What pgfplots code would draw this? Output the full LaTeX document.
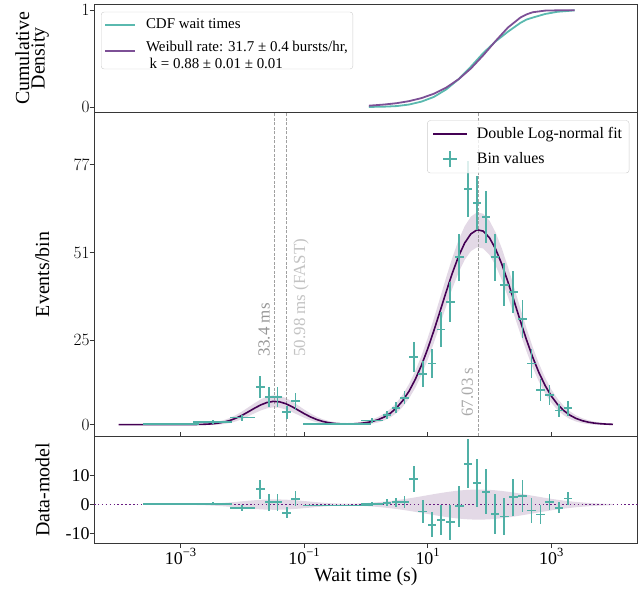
\documentclass[border=0pt]{standalone}
\usepackage{fontspec}
\setmainfont{Liberation Serif}
\usepackage{pgfplots}
\usepackage{pgfplotstable}
\pgfplotsset{compat=1.18}

\definecolor{tealc}{RGB}{80,176,166}
\definecolor{cdfc}{RGB}{90,185,175}
\definecolor{fitc}{RGB}{68,1,84}
\definecolor{weib}{RGB}{125,80,150}
\definecolor{dotc}{RGB}{105,30,130}
\definecolor{framec}{RGB}{55,55,55}
\definecolor{dashc}{RGB}{160,160,160}
\definecolor{annA}{RGB}{150,150,150}
\definecolor{annB}{RGB}{195,195,195}
\definecolor{annC}{RGB}{170,170,170}

\newcommand{\tenexp}[1]{10\raisebox{0.45em}{\fontsize{12.6}{12.6}\selectfont #1}}

\pgfplotstableread{
L f
-4.0 0.000
-3.5 0.000
-3.0 0.003
-2.8 0.022
-2.6 0.108
-2.5 0.220
-2.4 0.417
-2.3 0.740
-2.2 1.232
-2.1 1.918
-2.0 2.798
-1.9 3.821
-1.8 4.886
-1.7 5.850
-1.6 6.560
-1.5 6.887
-1.4 6.770
-1.3 6.232
-1.2 5.372
-1.1 4.335
-1.0 3.276
-0.9 2.318
-0.8 1.537
-0.7 0.953
-0.6 0.569
-0.5 0.331
-0.4 0.212
-0.3 0.183
-0.2 0.226
-0.1 0.344
0.0 0.568
0.1 0.922
0.2 1.470
0.3 2.277
0.4 3.430
0.5 5.030
0.6 7.170
0.7 9.940
0.8 13.40
0.9 17.57
1.0 22.41
1.1 27.80
1.2 33.54
1.3 39.36
1.4 44.92
1.5 49.87
1.6 53.84
1.7 56.54
1.8 57.75
1.9 57.36
2.0 55.42
2.1 52.07
2.2 47.59
2.3 42.30
2.4 36.58
2.5 30.76
2.6 25.15
2.7 20.01
2.8 15.48
2.9 11.65
3.0 8.52
3.1 6.06
3.2 4.20
3.3 2.83
3.4 1.85
3.5 1.18
3.6 0.73
3.7 0.44
3.8 0.26
3.9 0.147
4.0 0.081
}\model

% model uncertainty band, upper edge forward then lower edge back
\pgfplotstableread{
L y
-4.0 0.000
-3.5 0.000
-3.0 0.043
-2.8 0.122
-2.6 0.328
-2.5 0.540
-2.4 0.857
-2.3 1.320
-2.2 1.982
-2.1 2.858
-2.0 3.938
-1.9 5.151
-1.8 6.386
-1.7 7.490
-1.6 8.300
-1.5 8.667
-1.4 8.540
-1.3 7.932
-1.2 6.952
-1.1 5.755
-1.0 4.506
-0.9 3.358
-0.8 2.377
-0.7 1.613
-0.6 1.079
-0.5 0.721
-0.4 0.522
-0.3 0.473
-0.2 0.546
-0.1 0.744
0.0 1.078
0.1 1.572
0.2 2.290
0.3 3.307
0.4 4.690
0.5 6.560
0.6 8.990
0.7 12.080
0.8 15.89
0.9 20.42
1.0 25.63
1.1 31.39
1.2 37.48
1.3 43.63
1.4 49.48
1.5 54.67
1.6 58.83
1.7 61.65
1.8 62.92
1.9 62.51
2.0 60.48
2.1 56.98
2.2 52.28
2.3 46.72
2.4 40.69
2.5 34.53
2.6 28.56
2.7 23.05
2.8 18.16
2.9 13.97
3.0 10.50
3.1 7.73
3.2 5.59
3.3 3.97
3.4 2.77
3.5 1.92
3.6 1.31
3.7 0.89
3.8 0.61
3.9 0.407
4.0 0.271
4.0 -0.109
3.9 -0.113
3.8 -0.09
3.7 -0.01
3.6 0.15
3.5 0.44
3.4 0.93
3.3 1.69
3.2 2.81
3.1 4.39
3.0 6.54
2.9 9.33
2.8 12.80
2.7 16.97
2.6 21.74
2.5 26.99
2.4 32.47
2.3 37.88
2.2 42.90
2.1 47.16
2.0 50.36
1.9 52.21
1.8 52.58
1.7 51.43
1.6 48.85
1.5 45.07
1.4 40.36
1.3 35.09
1.2 29.60
1.1 24.21
1.0 19.19
0.9 14.72
0.8 10.91
0.7 7.800
0.6 5.350
0.5 3.500
0.4 2.170
0.3 1.247
0.2 0.650
0.1 0.272
0.0 0.058
-0.1 -0.056
-0.2 -0.094
-0.3 -0.107
-0.4 -0.098
-0.5 -0.059
-0.6 0.059
-0.7 0.293
-0.8 0.697
-0.9 1.278
-1.0 2.046
-1.1 2.915
-1.2 3.792
-1.3 4.532
-1.4 5.000
-1.5 5.107
-1.6 4.820
-1.7 4.210
-1.8 3.386
-1.9 2.491
-2.0 1.658
-2.1 0.978
-2.2 0.482
-2.3 0.160
-2.4 -0.023
-2.5 -0.100
-2.6 -0.112
-2.8 -0.078
-3.0 -0.037
-3.5 0.000
-4.0 0.000
}\bandmid

% residual band: +h forward, -h back
\pgfplotstableread{
L y
-4.0 0.00
-3.5 0.00
-3.0 0.04
-2.8 0.10
-2.6 0.22
-2.5 0.32
-2.4 0.44
-2.3 0.58
-2.2 0.75
-2.1 0.94
-2.0 1.14
-1.9 1.33
-1.8 1.50
-1.7 1.64
-1.6 1.74
-1.5 1.78
-1.4 1.77
-1.3 1.70
-1.2 1.58
-1.1 1.42
-1.0 1.23
-0.9 1.04
-0.8 0.84
-0.7 0.66
-0.6 0.51
-0.5 0.39
-0.4 0.31
-0.3 0.29
-0.2 0.32
-0.1 0.40
0.0 0.51
0.1 0.65
0.2 0.82
0.3 1.03
0.4 1.26
0.5 1.53
0.6 1.82
0.7 2.14
0.8 2.49
0.9 2.85
1.0 3.22
1.1 3.59
1.2 3.94
1.3 4.27
1.4 4.56
1.5 4.80
1.6 4.99
1.7 5.11
1.8 5.17
1.9 5.15
2.0 5.06
2.1 4.91
2.2 4.69
2.3 4.42
2.4 4.11
2.5 3.77
2.6 3.41
2.7 3.04
2.8 2.68
2.9 2.32
3.0 1.98
3.1 1.67
3.2 1.39
3.3 1.14
3.4 0.92
3.5 0.74
3.6 0.58
3.7 0.45
3.8 0.35
3.9 0.26
4.0 0.19
4.0 -0.19
3.9 -0.26
3.8 -0.35
3.7 -0.45
3.6 -0.58
3.5 -0.74
3.4 -0.92
3.3 -1.14
3.2 -1.39
3.1 -1.67
3.0 -1.98
2.9 -2.32
2.8 -2.68
2.7 -3.04
2.6 -3.41
2.5 -3.77
2.4 -4.11
2.3 -4.42
2.2 -4.69
2.1 -4.91
2.0 -5.06
1.9 -5.15
1.8 -5.17
1.7 -5.11
1.6 -4.99
1.5 -4.80
1.4 -4.56
1.3 -4.27
1.2 -3.94
1.1 -3.59
1.0 -3.22
0.9 -2.85
0.8 -2.49
0.7 -2.14
0.6 -1.82
0.5 -1.53
0.4 -1.26
0.3 -1.03
0.2 -0.82
0.1 -0.65
0.0 -0.51
-0.1 -0.40
-0.2 -0.32
-0.3 -0.29
-0.4 -0.31
-0.5 -0.39
-0.6 -0.51
-0.7 -0.66
-0.8 -0.84
-0.9 -1.04
-1.0 -1.23
-1.1 -1.42
-1.2 -1.58
-1.3 -1.70
-1.4 -1.77
-1.5 -1.78
-1.6 -1.74
-1.7 -1.64
-1.8 -1.50
-1.9 -1.33
-2.0 -1.14
-2.1 -0.94
-2.2 -0.75
-2.3 -0.58
-2.4 -0.44
-2.5 -0.32
-2.6 -0.22
-2.8 -0.10
-3.0 -0.04
-3.5 0.00
-4.0 0.00
}\bandres

\pgfplotstableread{
L N xe ye res
-3.15 0.3 0.45 0.3 0.3
-2.48 0.8 0.32 0.5 0.3
-2.00 2.1 0.20 0.9 -1.2
-1.71 11.1 0.07 3.3 5.3
-1.57 8.2 0.07 2.9 0.8
-1.43 8.2 0.07 2.9 0.8
-1.28 3.7 0.07 1.9 -2.8
-1.14 6.9 0.07 2.6 2.0
-0.47 0.3 0.55 0.3 -0.3
0.10 1.2 0.18 0.7 0.1
0.34 2.9 0.07 1.2 0.6
0.487 5.0 0.07 1.6 0.8
0.627 8.0 0.07 2.0 0.9
0.773 20.0 0.07 4.5 8.8
0.919 15.1 0.07 3.9 -2.35
1.07 18.1 0.07 4.3 -6.9
1.217 28.2 0.07 5.3 -5.3
1.368 36.3 0.07 6.0 -6.1
1.514 49.6 0.07 7.0 -0.6
1.655 69.8 0.07 8.4 14.0
1.80 65.7 0.07 8.1 7.4
1.947 61.5 0.07 7.8 4.4
2.093 49.6 0.07 7.0 -3.2
2.239 41.5 0.07 6.4 -4.1
2.385 39.3 0.07 6.3 2.5
2.536 31.2 0.07 5.6 3.0
2.68 18.1 0.07 4.3 -2.0
2.828 10.2 0.07 3.2 -3.4
2.973 8.7 0.07 2.9 0.9
3.124 4.2 0.07 2.0 -1.05
3.27 4.9 0.07 2.2 2.1
}\bins

\pgfplotstableread{
L cdf wb
0.05 0.005 0.018
0.3 0.008 0.030
0.5 0.014 0.044
0.7 0.030 0.065
0.9 0.060 0.096
1.1 0.108 0.141
1.3 0.185 0.204
1.5 0.290 0.290
1.7 0.420 0.401
1.9 0.560 0.537
2.1 0.680 0.684
2.3 0.780 0.823
2.5 0.870 0.925
2.6 0.905 0.958
2.7 0.925 0.980
2.9 0.962 0.997
3.1 0.985 0.9999
3.3 0.995 1.0
3.38 1.0 1.0
}\cdftab

\pgfplotsset{
  panel/.style={
    scale only axis, width=543.7bp,
    xmin=-4.4, xmax=4.4,
    axis line style={framec, line width=1bp},
    tick style={framec, line width=0.9bp},
    major tick length=4.3bp,
    tick align=outside,
    ytick pos=left,
    xtick={-3,-1,1,3},
    yticklabel style={font=\fontsize{18}{18}\selectfont, inner sep=0pt, anchor=east},
    xticklabel style={font=\fontsize{18}{18}\selectfont, inner sep=0pt},
    ylabel style={font=\fontsize{20}{20}\selectfont, anchor=center},
    xlabel style={font=\fontsize{20}{20}\selectfont},
  },
  errstyle/.style={tealc, only marks, mark=*, mark size=0.3pt,
    mark options={draw=none, fill=none},
    error bars/.cd, x dir=both, x explicit, y dir=both, y explicit,
    error mark=none, error bar style={draw=tealc, line width=1.8bp}},
}

\begin{document}
\begin{tikzpicture}
\path[use as bounding box] (0,0) rectangle (643bp,591bp);

% ---------------- top panel ----------------
\begin{axis}[panel, at={(94bp,478.7bp)}, anchor=south west, height=107.8bp,
  ymin=-0.05, ymax=1.06, ytick={0,1}, xmajorticks=false,
  ylabel={Cumulative\\Density},
  ylabel style={align=center, font=\fontsize{20}{15.5}\selectfont, at={(axis description cs:-0.1140,0.5)}},
  legend cell align=left,
  legend style={at={(axis description cs:0.0129,0.9325)}, anchor=north west,
    draw=black!20, rounded corners=3bp, fill=white, fill opacity=0.8, text opacity=1,
    font=\fontsize{15}{16.7}\selectfont, inner xsep=3bp, inner ysep=5bp, row sep=6bp,
    /tikz/every odd column/.append style={column sep=8bp}},
  legend image code/.code={\draw[#1] (0bp,0bp) -- (30bp,0bp);},
]
\addplot[cdfc, line width=1.8bp] table[x=L, y=cdf]{\cdftab};
\addlegendentry{CDF wait times}
\addplot[weib, line width=1.8bp] table[x=L, y=wb]{\cdftab};
\addlegendentry{\begin{tabular}{@{}l@{}}Weibull rate: 31.7 ± 0.4 bursts/hr,\\\ k =\ 0.88 ± 0.01 ± 0.01\end{tabular}}
\end{axis}

% ---------------- middle panel ----------------
\begin{axis}[panel, at={(94bp,154.5bp)}, anchor=south west, height=324.2bp,
  ymin=-3.52, ymax=92.58, ytick={0,25,51,77}, xmajorticks=false,
  ylabel={Events/bin},
  ylabel style={at={(axis description cs:-0.0950,0.5)}},
  legend cell align=left,
  legend style={at={(axis description cs:0.9846,0.9753)}, anchor=north east,
    draw=black!20, rounded corners=3bp, fill=white, fill opacity=0.8, text opacity=1,
    font=\fontsize{16}{18}\selectfont, inner xsep=5bp, inner ysep=5bp, row sep=8bp,
    /tikz/every odd column/.append style={column sep=7bp}},
  legend image code/.code={\draw[#1] (0bp,0bp) -- (34bp,0bp);},
]
\addplot[fill=fitc, fill opacity=0.15, draw=none, forget plot] table[x=L, y=y]{\bandmid};
\addplot[dashc, line width=0.9bp, dash pattern=on 3bp off 1.5bp, forget plot] coordinates {(-1.476,-10) (-1.476,100)};
\addplot[dashc, line width=0.9bp, dash pattern=on 3bp off 1.5bp, forget plot] coordinates {(-1.2926,-10) (-1.2926,100)};
\addplot[dashc, line width=0.9bp, dash pattern=on 3bp off 1.5bp, forget plot] coordinates {(1.8263,-10) (1.8263,100)};
\addplot[fitc, line width=1.6bp] table[x=L, y=f]{\model};
\addlegendentry{Double Log-normal fit}
\addplot[legend image code/.code={\draw[tealc, line width=1.8bp] (17bp,-8bp) -- (17bp,8bp); \draw[tealc, line width=1.8bp] (10bp,0bp) -- (24bp,0bp);},
  errstyle]
  table[x=L, y=N, x error=xe, y error=ye]{\bins};
\addlegendentry{Bin values}
\node[rotate=90, anchor=south west, inner sep=0pt, text=annA, font=\fontsize{17}{17}\selectfont] at (axis cs:-1.552,20.0) {33.4 ms};
\node[rotate=90, anchor=north west, inner sep=0pt, text=annB, font=\fontsize{17}{17}\selectfont] at (axis cs:-1.175,20.1) {50.98 ms (FAST)};
\node[rotate=90, anchor=south west, inner sep=0pt, text=annC, font=\fontsize{17}{17}\selectfont] at (axis cs:1.738,2.34) {67.03 s};
\end{axis}

% ---------------- bottom panel ----------------
\begin{axis}[panel, at={(94bp,47.7bp)}, anchor=south west, height=106.8bp,
  ymin=-13.3, ymax=23.4, ytick={-10,0,10}, yticklabels={-10,0,10},
  xtick pos=both, xticklabel pos=lower,
  xticklabels={\tenexp{−3},\tenexp{−1},\tenexp{1},\tenexp{3}},
  xlabel={Wait time (s)},
  ylabel={Data-model},
  ylabel style={at={(axis description cs:-0.0945,0.5)}},
]
\addplot[fill=fitc, fill opacity=0.15, draw=none, forget plot] table[x=L, y=y]{\bandres};
\addplot[dotc, line width=1.6bp, dash pattern=on 1.5bp off 2.4bp, forget plot] coordinates {(-4.4,0) (4.4,0)};
\addplot[errstyle] table[x=L, y=res, x error=xe, y error=ye]{\bins};
\end{axis}
\end{tikzpicture}
\end{document}
